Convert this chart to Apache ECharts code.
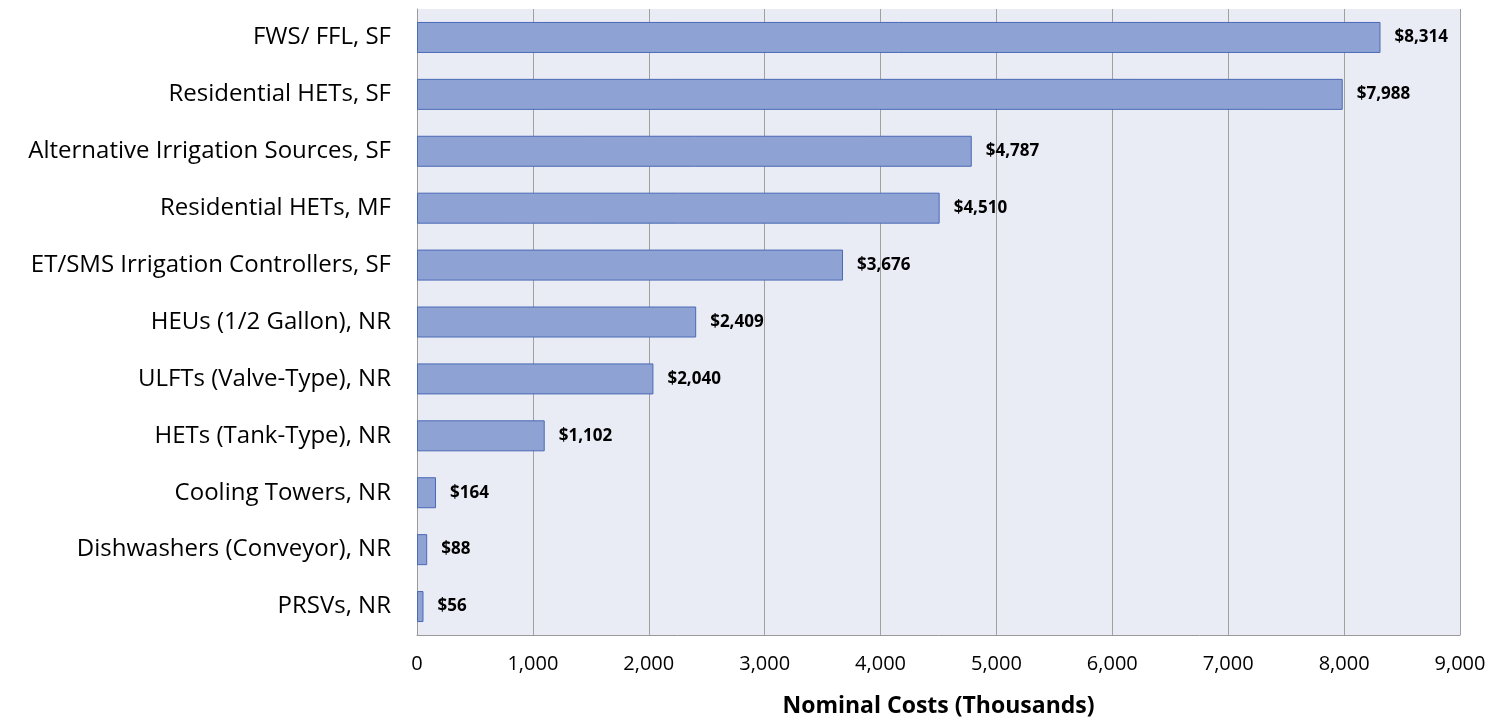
<!DOCTYPE html>
<html>
<head>
<meta charset="utf-8">
<script src="https://cdn.jsdelivr.net/npm/echarts@6/dist/echarts.min.js"></script>
<style>
  html, body { margin: 0; padding: 0; background: #fff; }
  #chart { width: 1493px; height: 723px; }
</style>
</head>
<body>
<div id="chart"></div>
<script>
// categories listed bottom to top (category axis on y starts at the bottom)
const categories = [
  "PRSVs, NR",
  "Dishwashers (Conveyor), NR",
  "Cooling Towers, NR",
  "HETs (Tank-Type), NR",
  "ULFTs (Valve-Type), NR",
  "HEUs (1/2 Gallon), NR",
  "ET/SMS Irrigation Controllers, SF",
  "Residential HETs, MF",
  "Alternative Irrigation Sources, SF",
  "Residential HETs, SF",
  "FWS/ FFL, SF"
];
const costs = [56, 88, 164, 1102, 2040, 2409, 3676, 4510, 4787, 7988, 8314];

const font = "'Open Sans', 'Liberation Sans', sans-serif";

const chart = echarts.init(document.getElementById("chart"));
chart.setOption({
  animation: false,
  textStyle: { fontFamily: font },
  grid: {
    left: 417,
    right: 33,
    top: 9,
    bottom: 88,
    show: true,
    backgroundColor: "#e9ebf5",
    borderWidth: 0
  },
  xAxis: {
    type: "value",
    min: 0,
    max: 9000,
    interval: 1000,
    name: "Nominal Costs (Thousands)",
    nameLocation: "middle",
    nameGap: 60,
    nameTextStyle: { fontSize: 23, fontWeight: "bold", color: "#000", fontFamily: font },
    axisLine: { show: true, lineStyle: { color: "#9a9a9a", width: 1 } },
    axisTick: { show: false },
    axisLabel: {
      fontSize: 20,
      color: "#000",
      margin: 19,
      formatter: v => v.toLocaleString("en-US")
    },
    splitLine: { show: true, lineStyle: { color: "#a0a0a0", width: 1 } }
  },
  yAxis: {
    type: "category",
    data: categories,
    axisLine: { show: true, lineStyle: { color: "#9a9a9a", width: 1 } },
    axisTick: { show: false },
    axisLabel: { fontSize: 24, color: "#000", margin: 26 }
  },
  series: [{
    type: "bar",
    data: costs,
    barWidth: 31,
    itemStyle: {
      color: "#8fa2d4",
      borderColor: "#4a6ab5",
      borderWidth: 1
    },
    label: {
      show: true,
      position: "right",
      distance: 14,
      fontSize: 17,
      fontWeight: "bold",
      color: "#000",
      formatter: p => "$" + p.value.toLocaleString("en-US")
    }
  }]
});
</script>
</body>
</html>
